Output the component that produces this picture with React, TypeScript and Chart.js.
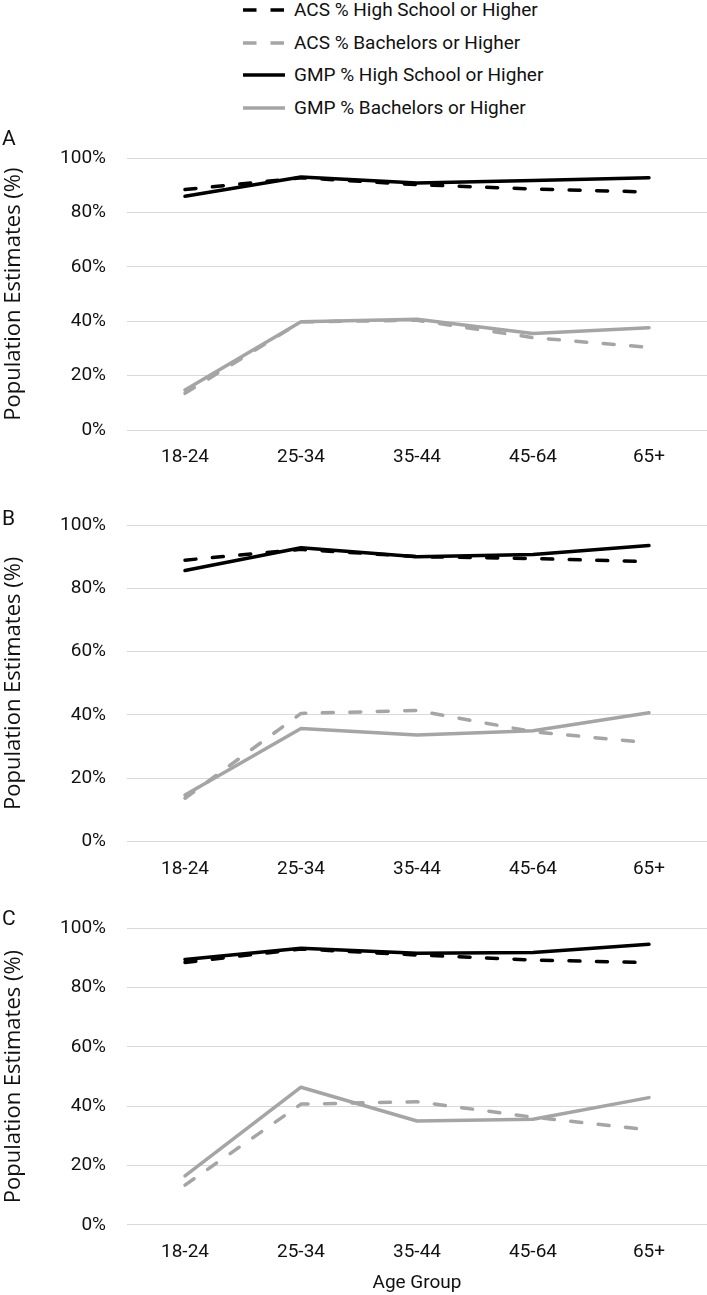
import React, { useEffect, useRef } from 'react';
import { Chart, registerables } from 'chart.js';

Chart.register(...registerables);

// ---- data ----
const categories = ['18-24', '25-34', '35-44', '45-64', '65+'];
const seriesNames = [
  'ACS % High School or Higher',
  'ACS % Bachelors or Higher',
  'GMP % High School or Higher',
  'GMP % Bachelors or Higher',
];
const yTicks = [0, 20, 40, 60, 80, 100];

const panelA_acsHS = [88.5, 92.8, 90.3, 88.7, 87.6];
const panelA_acsBach = [13.5, 39.8, 40.4, 34.0, 30.4];
const panelA_gmpHS = [86.0, 93.1, 90.9, 91.8, 92.8];
const panelA_gmpBach = [14.7, 39.8, 40.8, 35.5, 37.6];

const panelB_acsHS = [88.9, 92.3, 90.0, 89.4, 88.4];
const panelB_acsBach = [13.7, 40.5, 41.4, 34.7, 31.2];
const panelB_gmpHS = [85.6, 92.8, 90.0, 90.7, 93.5];
const panelB_gmpBach = [14.7, 35.7, 33.7, 35.0, 40.7];

const panelC_acsHS = [88.5, 93.0, 91.0, 89.3, 88.4];
const panelC_acsBach = [13.4, 40.7, 41.5, 36.3, 32.0];
const panelC_gmpHS = [89.5, 93.3, 91.6, 91.8, 94.6];
const panelC_gmpBach = [16.5, 46.4, 35.0, 35.6, 42.9];

const panelLetters = ['A', 'B', 'C'];
const panelSeries = [
  [panelA_acsHS, panelA_acsBach, panelA_gmpHS, panelA_gmpBach],
  [panelB_acsHS, panelB_acsBach, panelB_gmpHS, panelB_gmpBach],
  [panelC_acsHS, panelC_acsBach, panelC_gmpHS, panelC_gmpBach],
];

// ---- styles ----
const BLACK = '#000000';
const GRAY = '#a5a5a5';
const TEXT = '#111111';
const FONT = "Roboto, 'Liberation Sans', sans-serif";
const TITLE_FONT = "'Open Sans', 'Noto Sans', sans-serif";
const seriesColors = [BLACK, GRAY, BLACK, GRAY];
const seriesDashed = [true, true, false, false];
const DASH = [11, 16.5];

const layouts = [
  { top: 140, height: 340, padTop: 18.3, xAxisH: 50, xTitle: false, letterTop: 125.5 },
  { top: 505, height: 375, padTop: 20, xAxisH: 38.4, xTitle: false, letterTop: 506 },
  { top: 900, height: 395, padTop: 28.3, xAxisH: 70.2, xTitle: true, letterTop: 906 },
];
const legendRowY = [10, 43, 75, 108];

export default function App() {
  const refs = useRef<(HTMLCanvasElement | null)[]>([]);

  useEffect(() => {
    const charts = layouts.map((p, i) => {
      const canvas = refs.current[i] as HTMLCanvasElement;
      return new Chart(canvas, {
        type: 'line',
        data: {
          labels: categories,
          datasets: seriesNames.map((name, k) => ({
            label: name,
            data: panelSeries[i][k],
            borderColor: seriesColors[k],
            backgroundColor: seriesColors[k],
            borderDash: seriesDashed[k] ? DASH : [],
            borderWidth: 3.5,
            borderCapStyle: 'round' as const,
            borderJoinStyle: 'round' as const,
            pointRadius: 0,
            pointHoverRadius: 0,
            fill: false,
            tension: 0,
            order: 4 - k,
          })),
        },
        options: {
          animation: false,
          responsive: false,
          maintainAspectRatio: false,
          events: [],
          layout: { padding: { top: p.padTop, right: 0, left: 0, bottom: 0 } },
          plugins: { legend: { display: false }, tooltip: { enabled: false } },
          scales: {
            x: {
              type: 'category',
              offset: true,
              grid: { display: false, drawTicks: false },
              border: { display: false },
              ticks: {
                font: { family: FONT, size: 19 },
                color: TEXT,
                padding: 16,
                maxRotation: 0,
                autoSkip: false,
              },
              title: {
                display: p.xTitle,
                text: 'Age Group',
                font: { family: FONT, size: 19 },
                color: TEXT,
                padding: { top: 0, bottom: 0 },
              },
              afterFit: (s: any) => {
                s.height = p.xAxisH;
              },
            },
            y: {
              min: 0,
              max: 100,
              afterBuildTicks: (s: any) => {
                s.ticks = yTicks.map((v) => ({ value: v }));
              },
              ticks: {
                callback: (v: any) => v + '%',
                font: { family: FONT, size: 19 },
                color: TEXT,
                padding: 0,
              },
              grid: {
                color: '#d9d9d9',
                lineWidth: 1,
                drawTicks: true,
                tickLength: 21,
                tickColor: 'rgba(0,0,0,0)',
              },
              border: { display: false },
              title: {
                display: true,
                text: 'Population Estimates (%)',
                font: { family: TITLE_FONT, size: 22 },
                color: TEXT,
                padding: { top: 1, bottom: 0 },
              },
              afterFit: (s: any) => {
                s.width = 127;
              },
            },
          },
        },
      });
    });
    return () => charts.forEach((c) => c.destroy());
  }, []);

  return (
    <div
      style={{
        position: 'absolute',
        left: 0,
        top: 0,
        width: 707,
        height: 1295,
        background: '#ffffff',
        overflow: 'hidden',
      }}
    >
      {seriesNames.map((name, k) => (
        <div
          key={name}
          style={{
            position: 'absolute',
            left: 243,
            top: legendRowY[k] - 11,
            height: 22,
            display: 'flex',
            alignItems: 'center',
            whiteSpace: 'nowrap',
            fontFamily: FONT,
            fontSize: 19,
            lineHeight: '22px',
            color: TEXT,
          }}
        >
          <svg width={42} height={22} style={{ display: 'block', marginRight: 9 }}>
            <line
              x1={0}
              y1={11}
              x2={42}
              y2={11}
              stroke={seriesColors[k]}
              strokeWidth={3.5}
              strokeDasharray={seriesDashed[k] ? '13.5 14' : undefined}
            />
          </svg>
          <span>{name}</span>
        </div>
      ))}
      {layouts.map((p, i) => (
        <React.Fragment key={i}>
          <canvas
            ref={(el) => {
              refs.current[i] = el;
            }}
            width={707}
            height={p.height}
            style={{ position: 'absolute', left: 0, top: p.top, width: 707, height: p.height }}
          />
          <div
            style={{
              position: 'absolute',
              left: 2,
              top: p.letterTop,
              fontFamily: FONT,
              fontSize: 21,
              lineHeight: '24px',
              color: TEXT,
            }}
          >
            {panelLetters[i]}
          </div>
        </React.Fragment>
      ))}
    </div>
  );
}
